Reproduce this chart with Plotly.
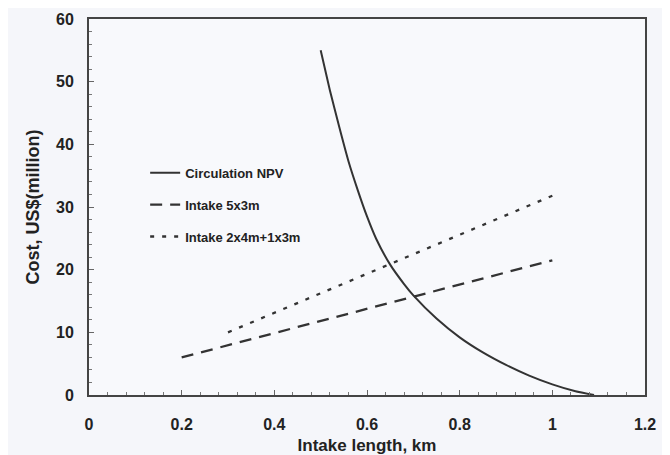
import plotly.graph_objects as go

# Circulation NPV curve
npv_x = [0.5, 0.52, 0.54, 0.56, 0.58, 0.6, 0.62, 0.65, 0.68, 0.7, 0.75, 0.8, 0.85, 0.9, 0.95, 1.0, 1.05, 1.09]
npv_y = [55, 48.6, 42.8, 37.3, 32.7, 28.5, 24.9, 20.8, 17.7, 15.9, 12.2, 9.2, 6.8, 4.8, 3.1, 1.7, 0.6, 0]

# Intake 5x3m
i53_x = [0.2, 0.4, 0.6, 0.8, 1.0]
i53_y = [6, 9.9, 13.8, 17.6, 21.5]

# Intake 2x4m+1x3m
i243_x = [0.3, 0.5, 0.7, 0.9, 1.0]
i243_y = [10, 16.2, 22.5, 28.7, 31.8]

names = ["Circulation NPV", "Intake 5x3m", "Intake 2x4m+1x3m"]

line_col = "#333333"
font_fam = "Liberation Sans, Arial, sans-serif"

fig = go.Figure()
fig.add_trace(go.Scatter(x=npv_x, y=npv_y, mode="lines", name=names[0],
                         line=dict(color=line_col, width=2, shape="spline", smoothing=0.5),
                         legendgroup="a"))
fig.add_trace(go.Scatter(x=i53_x, y=i53_y, mode="lines", name=names[1],
                         line=dict(color=line_col, width=2.3, dash="12px,8px"),
                         legendgroup="b"))
fig.add_trace(go.Scatter(x=i243_x, y=i243_y, mode="lines", name=names[2],
                         line=dict(color=line_col, width=2.3, dash="4px,8px"),
                         legendgroup="c"))

axis_common = dict(
    showline=True, linecolor="#444444", linewidth=2, mirror=True,
    showgrid=False, zeroline=False, automargin=False,
    ticks="inside", ticklen=5, tickcolor="#666666", tickwidth=1,
    tickfont=dict(family=font_fam, size=16, color="#222222", weight="bold"),
)

# The page has an 8px body margin, so the figure is sized to fill the rest of the window.
fig.update_layout(
    width=662, height=447,
    margin=dict(l=81, r=25, t=11, b=60),
    paper_bgcolor="#f5f6fa", plot_bgcolor="#f8f9fc",
    font=dict(family=font_fam, color="#222222"),
    showlegend=True,
    legend=dict(x=0.101, y=0.631, xanchor="left", yanchor="top",
                bgcolor="rgba(0,0,0,0)", traceorder="grouped", tracegroupgap=12,
                font=dict(family=font_fam, size=13, color="#222222", weight="bold"),
                itemwidth=30),
    xaxis=dict(range=[0, 1.2], tickvals=[0, 0.2, 0.4, 0.6, 0.8, 1.0, 1.2],
               ticktext=["0", "0.2", "0.4", "0.6", "0.8", "1", "1.2"],
               minor=dict(dtick=0.04, ticks="inside", ticklen=3, tickcolor="#777777"),
               ticklabelstandoff=14,
               title=dict(text="Intake length, km", standoff=7,
                          font=dict(family=font_fam, size=17, color="#222222", weight="bold")),
               **axis_common),
    yaxis=dict(range=[0, 60], dtick=10,
               minor=dict(dtick=2, ticks="inside", ticklen=3, tickcolor="#777777"),
               ticklabelstandoff=10,
               title=dict(text="Cost, US$(million)", standoff=12,
                          font=dict(family=font_fam, size=18, color="#222222", weight="bold")),
               **axis_common),
)

fig.write_html("out.html")
